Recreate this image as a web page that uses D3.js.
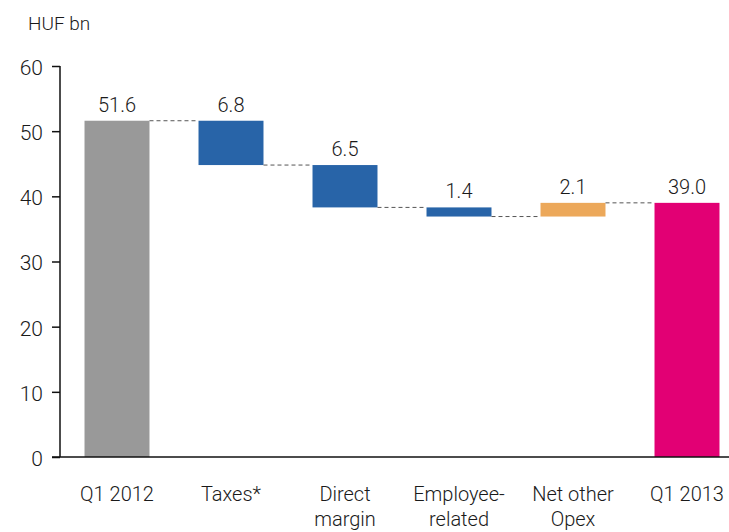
<!DOCTYPE html>
<html>
<head>
<meta charset="utf-8">
<script src="https://cdn.jsdelivr.net/npm/d3@7"></script>
<style>
  html, body { margin: 0; padding: 0; background: #fff; }
  svg text { font-family: Roboto, "Liberation Sans", sans-serif; font-weight: 300; fill: #1a1a1a; }
</style>
</head>
<body>
<svg id="chart" width="729" height="532"></svg>
<script>
// Waterfall steps: label lines, signed change, kind of bar
const categories = [["Q1 2012"], ["Taxes*"], ["Direct", "margin"], ["Employee-", "related"], ["Net other", "Opex"], ["Q1 2013"]];
const changes = [51.6, -6.8, -6.5, -1.4, 2.1, 39.0];
const kinds = ["total", "step", "step", "step", "step", "total"];
const valueLabels = ["51.6", "6.8", "6.5", "1.4", "2.1", "39.0"];
const yTicks = [0, 10, 20, 30, 40, 50, 60];
const colors = ["#999999", "#2864a8", "#2864a8", "#2864a8", "#eca85a", "#e20074"];

// Running totals -> bar start/end
let run = 0;
const bars = changes.map((c, i) => {
  let y0, y1;
  if (kinds[i] === "total") { y0 = 0; y1 = c; run = c; }
  else { y0 = run; y1 = run + c; run = y1; }
  return { i, y0, y1, top: Math.max(y0, y1), bottom: Math.min(y0, y1), end: y1 };
});

const svg = d3.select("#chart");
const y = d3.scaleLinear().domain([0, 60]).range([457, 66]);
const x = d3.scaleBand().domain(d3.range(categories.length)).range([60, 744])
  .paddingInner(0.43).paddingOuter(0.215);

// Unit label
svg.append("text").attr("x", 28).attr("y", 30).attr("font-size", 19).text("HUF bn");

// Y axis
const yAxis = svg.append("g").attr("transform", "translate(60,0)")
  .call(d3.axisLeft(y).tickValues(yTicks).tickSize(8).tickPadding(9).tickFormat(d3.format("d")));
yAxis.select(".domain").attr("stroke", "#111").attr("stroke-width", 1.5).attr("d", "M0," + y(60) + "V" + y(0));
yAxis.selectAll(".tick line").attr("stroke", "#111").attr("stroke-width", 1.5);
yAxis.selectAll(".tick text").attr("font-size", 21).attr("dy", "0.4em")
  .style("font-family", "Roboto, sans-serif").style("font-weight", 300).attr("fill", "#1a1a1a");

// Bars
svg.append("g").selectAll("rect").data(bars).join("rect")
  .attr("x", d => x(d.i)).attr("width", x.bandwidth())
  .attr("y", d => y(d.top)).attr("height", d => y(d.bottom) - y(d.top))
  .attr("fill", d => colors[d.i]);

// Dashed connectors between consecutive bars
svg.append("g").selectAll("line").data(bars.slice(0, -1)).join("line")
  .attr("x1", d => x(d.i) + x.bandwidth()).attr("x2", d => x(d.i + 1))
  .attr("y1", d => y(d.end)).attr("y2", d => y(d.end))
  .attr("stroke", "#555").attr("stroke-width", 1).attr("stroke-dasharray", "4,3");

// Value labels above each bar
svg.append("g").selectAll("text").data(bars).join("text")
  .attr("x", d => x(d.i) + x.bandwidth() / 2).attr("y", d => y(d.top) - 9)
  .attr("text-anchor", "middle").attr("font-size", 20)
  .text(d => valueLabels[d.i]);

// X axis baseline
svg.append("line").attr("x1", 52).attr("x2", 729).attr("y1", y(0)).attr("y2", y(0))
  .attr("stroke", "#111").attr("stroke-width", 1.5);

// Category labels
const cat = svg.append("g").selectAll("text").data(categories).join("text")
  .attr("text-anchor", "middle").attr("font-size", 20)
  .attr("transform", (d, i) => "translate(" + (x(i) + x.bandwidth() / 2) + ",501)");
cat.selectAll("tspan").data(d => d).join("tspan")
  .attr("x", 0).attr("dy", (d, j) => j === 0 ? 0 : 25).text(d => d);
</script>
</body>
</html>
